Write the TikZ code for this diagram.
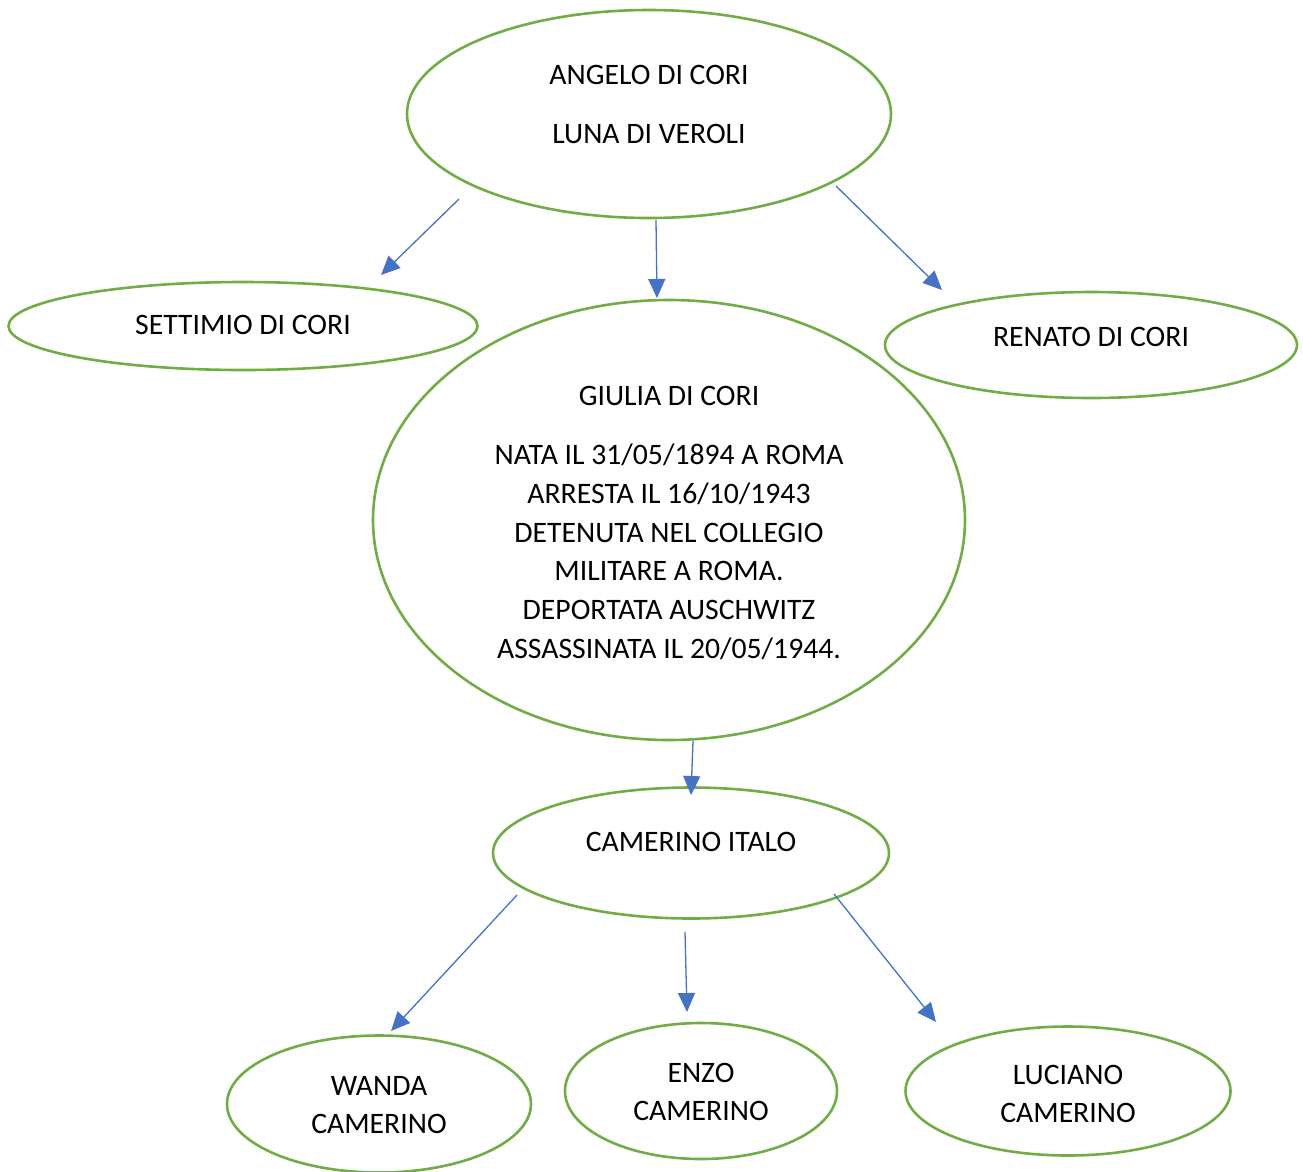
\documentclass[tikz,border=0pt]{standalone}
\usepackage{fontspec}
\setmainfont{Carlito}
\usetikzlibrary{arrows.meta,shapes.geometric}

\definecolor{famgreen}{HTML}{70AD47}
\definecolor{linkblue}{HTML}{4472C4}

\tikzset{
  person/.style={draw=famgreen, line width=2.6pt, ellipse, inner sep=0pt},
  nametext/.style={align=center, font=\fontsize{29.7}{38.7}\selectfont, inner sep=0pt},
  link/.style={draw=linkblue, line width=1.3pt, -{Triangle[length=19pt,width=17pt]}}
}

\begin{document}
\begin{tikzpicture}[x=1pt,y=-1pt]
\useasboundingbox (0,0) rectangle (1303,1171);

% family ellipses
\node [person, minimum width=484, minimum height=208] (angelo) at (649,114) {};
\node [person, minimum width=469, minimum height=88] (settimio) at (243,326) {};
\node [person, minimum width=412, minimum height=106] (renato) at (1091,345) {};
\node [person, minimum width=592, minimum height=440] (giulia) at (669,520) {};
\node [person, minimum width=396, minimum height=131] (italo) at (691,853) {};
\node [person, minimum width=304, minimum height=137] (wanda) at (379,1104) {};
\node [person, minimum width=272, minimum height=136] (enzo) at (701,1091) {};
\node [person, minimum width=325, minimum height=129] (luciano) at (1068,1091) {};

% texts
\node [nametext] (angelo-t) at (649,104) {ANGELO DI CORI\\[20.3pt]LUNA DI VEROLI};
\node [nametext] (settimio-t) at (243,325) {SETTIMIO DI CORI};
\node [nametext] (renato-t) at (1091,337) {RENATO DI CORI};
\node [nametext] (giulia-t) at (669,523) {GIULIA DI CORI\\[20.3pt]NATA IL 31/05/1894 A ROMA\\ARRESTA IL 16/10/1943\\DETENUTA NEL COLLEGIO\\MILITARE A ROMA.\\DEPORTATA AUSCHWITZ\\ASSASSINATA IL 20/05/1944.};
\node [nametext] (italo-t) at (691,842) {CAMERINO ITALO};
\node [nametext] (wanda-t) at (379,1105) {WANDA\\CAMERINO};
\node [nametext] (enzo-t) at (701,1092) {ENZO\\CAMERINO};
\node [nametext] (luciano-t) at (1068,1094) {LUCIANO\\CAMERINO};

% arrow ends
\coordinate (a1) at (459,199);  \coordinate (b1) at (381,275);
\coordinate (a2) at (656,220);  \coordinate (b2) at (657,298);
\coordinate (a3) at (836,186);  \coordinate (b3) at (942,290);
\coordinate (a4) at (693,741);  \coordinate (b4) at (691,795);
\coordinate (a5) at (517,895);  \coordinate (b5) at (391,1031);
\coordinate (a6) at (685,932);  \coordinate (b6) at (687,1012);
\coordinate (a7) at (834,894);  \coordinate (b7) at (936,1022);

\draw [link] (a1) -- (b1);
\draw [link] (a2) -- (b2);
\draw [link] (a3) -- (b3);
\draw [link] (a4) -- (b4);
\draw [link] (a5) -- (b5);
\draw [link] (a6) -- (b6);
\draw [link] (a7) -- (b7);
\end{tikzpicture}
\end{document}
